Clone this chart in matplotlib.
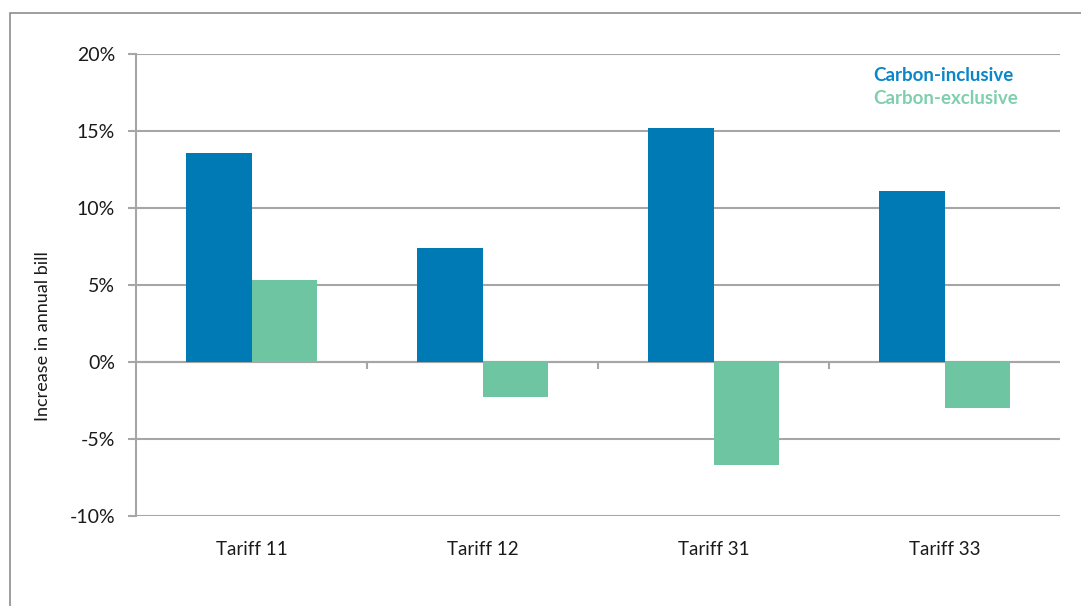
import matplotlib
matplotlib.use("Agg")
import matplotlib.pyplot as plt
import numpy as np
from matplotlib.patches import Patch, Rectangle
from matplotlib.ticker import FuncFormatter, MultipleLocator

categories = ["Tariff 11", "Tariff 12", "Tariff 31", "Tariff 33"]
carbon_inclusive = [13.6, 7.4, 15.2, 11.1]
carbon_exclusive = [5.3, -2.3, -6.7, -3.0]
series_names = ["Carbon-inclusive", "Carbon-exclusive"]

blue = "#007ab5"
green = "#6ec5a1"
grid_grey = "#a6a6a6"

plt.rcParams["font.family"] = ["Lato", "DejaVu Sans"]

fig = plt.figure(figsize=(10.81, 6.06), dpi=100)
ax = fig.add_axes([136 / 1081, 1 - 516 / 606, 924 / 1081, 462 / 606])

# outer chart frame (runs off the right and bottom edges)
fig.patches.append(Rectangle((10 / 1081, -0.1), 1.2, 1 - 13 / 606 + 0.1,
                             transform=fig.transFigure, fill=False,
                             edgecolor="#8c8c8c", linewidth=1.2))

x = np.arange(len(categories))
w = 0.285
ax.bar(x - w / 2, carbon_inclusive, width=w, color=blue, zorder=3)
ax.bar(x + w / 2, carbon_exclusive, width=w, color=green, zorder=3)

ax.set_xlim(-0.5, len(categories) - 0.5)
ax.set_ylim(-10, 20)
ax.yaxis.set_major_locator(MultipleLocator(5))
ax.yaxis.set_major_formatter(FuncFormatter(lambda v, _: f"{v:.0f}%"))
ax.grid(axis="y", color=grid_grey, linewidth=1.5, zorder=0)

ax.set_xticks(x)
ax.set_xticklabels(categories)
ax.tick_params(axis="x", length=0, pad=18, labelsize=13.5, labelcolor="#1a1a1a")
ax.tick_params(axis="y", length=6, width=1.5, color=grid_grey, pad=9,
               labelsize=14, labelcolor="#1a1a1a")

for side in ["top", "right", "bottom"]:
    ax.spines[side].set_visible(False)
ax.spines["left"].set_color(grid_grey)
ax.spines["left"].set_linewidth(1.5)

# zero line with category separator ticks
ax.axhline(0, color=grid_grey, linewidth=1.5, zorder=2)
ax.vlines(x[:-1] + 0.5, -0.45, 0, color=grid_grey, linewidth=1.5, zorder=2)

fig.text(43 / 1081, 1 - 336 / 606, "Increase in annual bill", rotation=90,
         ha="center", va="center", fontsize=13, color="#1a1a1a")

handles = [Patch(visible=False), Patch(visible=False)]
leg = ax.legend(handles, series_names, loc="upper left",
                bbox_to_anchor=((873 - 136) / 924, (516 - 67) / 462),
                frameon=False, handlelength=0, handletextpad=0,
                borderpad=0, borderaxespad=0, labelspacing=0.3,
                labelcolor=["#0a87c9", "#7fcfae"],
                prop={"size": 13.5, "weight": "bold"})

fig.savefig("out.png", dpi=100, facecolor="white")
